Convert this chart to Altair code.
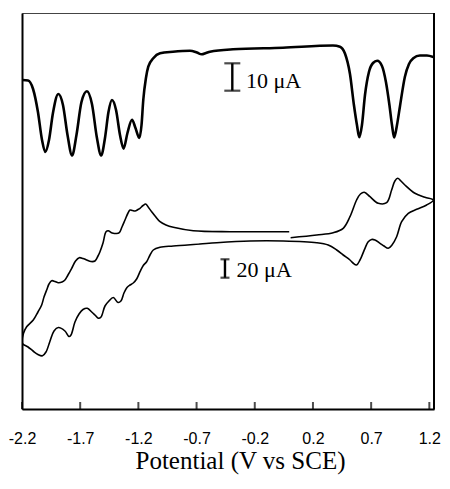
import altair as alt
import pandas as pd

# ---------------- data (potential in V, current in arbitrary offset units) ----------------
# Differential pulse voltammogram (upper trace)
DPV_E = [-2.197, -2.148, -2.105, -2.063, -2.028, -2.000, -1.968, -1.934, -1.888, -1.848,
         -1.809, -1.770, -1.732, -1.689, -1.642, -1.599, -1.556, -1.520, -1.487, -1.457,
         -1.427, -1.392, -1.358, -1.327, -1.294, -1.255, -1.225, -1.192, -1.173, -1.158,
         -1.135, -1.115, -1.072, -1.014, -0.903, -0.757, -0.697, -0.656, -0.619, -0.585,
         -0.387, 0.042, 0.472, 0.532, 0.575, 0.618, 0.652, 0.678, 0.698, 0.721,
         0.747, 0.781, 0.816, 0.852, 0.893, 0.927, 0.957, 0.979, 0.998, 1.022,
         1.047, 1.090, 1.125, 1.162, 1.219, 1.279, 1.334]
DPV_I = [329, 328.5, 320, 297, 269, 257, 269, 296, 315, 304,
         274, 253.5, 274, 307, 317.7, 305, 271, 253.5, 271, 297,
         309, 299, 274, 260.4, 276, 289.3, 281, 271, 284, 309,
         331, 342.3, 350.7, 355.7, 357.3, 358.3, 356.5, 354.7, 356, 357.3,
         359.7, 361.3, 363.5, 362.3, 355.5, 335, 304, 284, 271.7, 284,
         314, 337, 346, 348.2, 343, 327, 304, 284, 271.5, 284,
         302.3, 332.3, 345, 350.7, 353.5, 353.5, 352]

# Cyclic voltammogram (lower trace), in sweep order
CV_A_E = [0.108, 0.332, 0.474, 0.560, 0.618, 0.675, 0.708, 0.741, 0.790, 0.861,
          0.933, 0.976, 1.004, 1.028, 1.056, 1.090, 1.176, 1.262, 1.334]
CV_A_I = [171.3, 174, 176.3, 180.7, 192.3, 209, 215, 216.7, 212.3, 205.7,
          206.3, 219, 228, 230.7, 228, 224, 215.7, 211.7, 209]
CV_B_E = [1.277, 1.191, 1.119, 1.062, 1.019, 0.979, 0.947, 0.910, 0.876, 0.833,
          0.804, 0.773, 0.747, 0.704, 0.675, 0.644, 0.618, 0.560, 0.504, 0.431,
          0.332, 0.045, -0.241, -0.527, -0.671, -0.900, -1.014, -1.072, -1.100, -1.129,
          -1.158, -1.186, -1.215, -1.244, -1.272, -1.298, -1.324, -1.350, -1.375, -1.416,
          -1.453, -1.487, -1.521, -1.543, -1.573, -1.601, -1.639, -1.676, -1.710, -1.745,
          -1.779, -1.796, -1.831, -1.888, -1.925, -1.959, -1.994, -2.024, -2.063, -2.105,
          -2.148, -2.197]
CV_B_I = [204, 199.7, 195.7, 187.3, 172.3, 164, 160.7, 163, 165.7, 169,
          169.5, 167, 160.7, 149, 144, 146, 149, 154, 159, 164,
          166.3, 168, 168, 166.3, 165, 163, 161.7, 159, 154, 147.3,
          143.5, 137.3, 130, 126, 124, 121.5, 116, 108, 106.5, 111.5,
          108, 103, 92, 90.7, 94, 97, 100.7, 99.5, 95, 87,
          74, 72.5, 78, 81.5, 78, 68, 57, 53.2, 54.5, 58,
          62, 65.7]
CV_C_E = [-2.187, -2.160, -2.103, -2.063, -2.031, -2.011, -1.988, -1.968, -1.945, -1.916,
          -1.888, -1.856, -1.831, -1.805, -1.773, -1.740, -1.708, -1.676, -1.644, -1.607,
          -1.573, -1.547, -1.530, -1.504, -1.478, -1.459, -1.435, -1.416, -1.392, -1.364,
          -1.341, -1.315, -1.289, -1.272, -1.251, -1.229, -1.203, -1.186, -1.160, -1.137,
          -1.113, -1.086, -1.057, -1.014, -0.963, -0.900, -0.728, -0.413, -0.155, 0.096]
CV_C_I = [75.7, 82.3, 89, 97, 104, 112, 119, 125, 128.3, 127.5,
          126.3, 127, 129, 134, 140.7, 148, 151.3, 150.5, 149, 147.5,
          148, 153, 157.3, 166, 177.3, 178.3, 176.5, 175.7, 175.5, 176.3,
          182, 189, 196, 199, 198.5, 198, 199.5, 200.7, 203.5, 205,
          201.5, 197.3, 193, 187.3, 184, 181.7, 178.3, 177.3, 177.3, 177.3]

# Axis
TICK_POS = [-2.2, -1.7, -1.2, -0.7, -0.2, 0.3, 0.8, 1.3]
TICK_LABELS = ["-2.2", "-1.7", "-1.2", "-0.7", "-0.2", "0.2", "0.7", "1.2"]
X_DOMAIN = [-2.2, 1.34]
Y_DOMAIN = [0, 396]
X_TITLE = "Potential (V vs SCE)"

# Scale bars
BAR10 = {"E": -0.393, "lo": 318.3, "hi": 345.7, "label": "10 μA", "lE": -0.276, "lI": 320.7}
BAR20 = {"E": -0.456, "lo": 131.3, "hi": 149.7, "label": "20 μA", "lE": -0.356, "lI": 132.3}

# ---------------- build ----------------
dpv = pd.DataFrame({"E": DPV_E, "I": DPV_I})
cv_E = CV_A_E + CV_B_E + CV_C_E
cv_I = CV_A_I + CV_B_I + CV_C_I
cv = pd.DataFrame({"E": cv_E, "I": cv_I, "k": list(range(len(cv_E)))})
ticks = pd.DataFrame({"E": TICK_POS})

label_expr = ""
for p, lab in zip(TICK_POS, TICK_LABELS):
    label_expr += f"abs(datum.value - ({p})) < 0.01 ? '{lab}' : "
label_expr += "''"

x_enc = alt.X(
    "E:Q",
    scale=alt.Scale(domain=X_DOMAIN, nice=False, zero=False),
    axis=alt.Axis(
        values=TICK_POS, labelExpr=label_expr, ticks=False, tickSize=0, grid=False,
        domainColor="black", domainWidth=2, labelFlush=False,
        labelFont="Liberation Sans", labelFontSize=16, labelColor="black", labelPadding=21,
        title=X_TITLE, titleFont="Liberation Serif", titleFontSize=25,
        titleFontWeight="normal", titleColor="black", titleX=218, titleY=59,
        titleBaseline="alphabetic", titleAlign="center",
    ),
)
y_enc = alt.Y(
    "I:Q",
    scale=alt.Scale(domain=Y_DOMAIN, nice=False, zero=False),
    axis=alt.Axis(labels=False, ticks=False, grid=False, domainColor="black", domainWidth=2),
    title=None,
)

dpv_line = alt.Chart(dpv).mark_line(
    color="black", strokeWidth=2.6, interpolate="monotone", clip=True
).encode(x=x_enc, y=y_enc)

cv_line = alt.Chart(cv).mark_line(
    color="black", strokeWidth=1.6, interpolate="catmull-rom", clip=True
).encode(x="E:Q", y="I:Q", order=alt.Order("k:Q"))

tick_marks = alt.Chart(ticks).mark_tick(
    orient="vertical", size=7, thickness=2, yOffset=-3.5, color="black"
).encode(x="E:Q", y=alt.datum(Y_DOMAIN[0]))

right_edge = alt.Chart(ticks).mark_rule(color="black", strokeWidth=2).encode(
    x=alt.datum(X_DOMAIN[1])
)


def scale_bar(b, cap):
    df = pd.DataFrame({"E": [b["E"]], "lo": [b["lo"]], "hi": [b["hi"]],
                       "lE": [b["lE"]], "lI": [b["lI"]], "label": [b["label"]]})
    base = alt.Chart(df)
    stem = base.mark_rule(color="black", strokeWidth=2.4).encode(x="E:Q", y="lo:Q", y2="hi:Q")
    cap_lo = base.mark_tick(orient="horizontal", size=cap, thickness=2.2, color="black").encode(
        x="E:Q", y="lo:Q")
    cap_hi = base.mark_tick(orient="horizontal", size=cap, thickness=2.2, color="black").encode(
        x="E:Q", y="hi:Q")
    txt = base.mark_text(align="left", baseline="alphabetic", font="Liberation Serif",
                         fontSize=22, color="black").encode(x="lE:Q", y="lI:Q", text="label:N")
    return stem + cap_lo + cap_hi + txt


chart = alt.layer(
    dpv_line, cv_line, tick_marks, right_edge, scale_bar(BAR10, 16), scale_bar(BAR20, 9)
).properties(
    width=412, height=396,
    padding={"left": 14, "top": 5, "right": 8, "bottom": 66},
    autosize=alt.AutoSizeParams(type="none"),
    background="white",
).configure_view(stroke="#444", strokeWidth=1)

chart.save("out.html", embed_options={"renderer": "svg", "actions": False})
